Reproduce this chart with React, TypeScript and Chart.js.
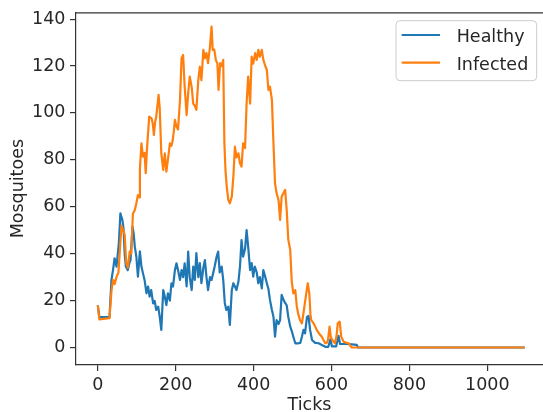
import React, { useEffect, useRef } from "react";
import { Chart, registerables } from "chart.js";

Chart.register(...registerables);

const seriesLabels = ["Healthy", "Infected"];
const seriesColors = ["#1f77b4", "#ff7f0e"];
const xTickValues = [0, 200, 400, 600, 800, 1000];
const yTickValues = [0, 20, 40, 60, 80, 100, 120, 140];
const xAxisTitle = "Ticks";
const yAxisTitle = "Mosquitoes";

const healthyTicks = [
  0, 4, 30, 35, 39, 43, 48, 54, 58, 60, 63, 66, 69, 72, 77, 81, 84, 89, 92, 95, 99, 103, 108, 112, 116, 120,
  125, 129, 133, 137, 142, 146, 150, 155, 159, 163, 168, 172, 176, 180, 185, 189, 193, 198, 202, 206, 211,
  215, 219, 223, 228, 232, 236, 241, 245, 249, 253, 258, 262, 266, 271, 275, 279, 283, 288, 292, 296, 300,
  305, 309, 313, 318, 322, 326, 330, 335, 339, 344, 348, 352, 356, 361, 365, 369, 373, 378, 382, 386, 391,
  395, 399, 403, 408, 412, 416, 421, 425, 430, 434, 438, 442, 447, 451, 455, 459, 464, 468, 472, 477, 481,
  485, 489, 494, 498, 502, 507, 515, 520, 524, 528, 532, 537, 541, 545, 550, 558, 567, 575, 584, 592, 597,
  601, 612, 618, 622, 640, 652, 665, 668, 1096,
];
const healthyCounts = [
  18, 13, 13, 28.8, 33, 38, 34.5, 44.4, 57.2, 56, 54.4, 50.8, 40, 34.5, 33, 36, 37.3, 51.5, 48.7, 43, 38.7,
  30.2, 41, 34.5, 31.6, 28.8, 23.1, 26, 21.7, 24.5, 18.8, 19.9, 16, 17.4, 13.1, 7.5, 24.5, 21.7, 18.1, 23.1,
  20, 27.4, 26, 33, 35.9, 33, 28.8, 33, 30, 35.9, 26, 40.9, 30, 24.5, 34.5, 28.8, 40.2, 30, 36, 27.4, 34,
  37.3, 30, 24.5, 30, 28.8, 31.6, 34.5, 38.7, 40.9, 32, 34.5, 28.8, 19, 16, 17.4, 9.6, 24.5, 27.4, 26, 24.5,
  28, 34.5, 45.8, 38.7, 42, 50.1, 43, 33, 36, 30.2, 34.5, 32, 27.4, 30, 25.2, 33, 30, 27.4, 25, 20.3, 16,
  13.1, 4.6, 11.7, 10, 11.7, 22.4, 20.3, 19, 18, 13.1, 8.9, 7, 4.6, 1.8, 1.8, 2, 4.6, 7.5, 6, 13, 13.5, 7.5,
  3.2, 2, 1.8, 1.1, 0.3, 0.3, 3.5, 0.5, 0.5, 5, 1.5, 1.5, 1.3, 1.1, 0, 0,
];

const infectedTicks = [
  0, 4, 30, 35, 39, 43, 48, 53, 58, 61, 65, 69, 73, 77, 82, 86, 90, 95, 99, 103, 106, 108, 112, 116, 120,
  123, 126, 129, 132, 138, 141, 144, 147, 150, 153, 156, 159, 163, 168, 172, 176, 181, 185, 189, 192, 195,
  198, 202, 206, 211, 215, 219, 223, 228, 232, 236, 241, 245, 249, 253, 258, 262, 266, 271, 275, 279, 283,
  288, 292, 295, 299, 303, 307, 310, 314, 318, 322, 325, 328, 331, 335, 339, 344, 348, 352, 356, 361, 365,
  369, 373, 378, 382, 386, 391, 395, 399, 404, 408, 412, 416, 421, 425, 430, 434, 438, 442, 447, 451, 455,
  459, 464, 468, 472, 477, 481, 485, 489, 494, 498, 502, 507, 511, 515, 519, 524, 528, 534, 539, 543, 546,
  548, 554, 558, 562, 568, 575, 580, 584, 588, 591, 595, 598, 602, 609, 613, 616, 621, 625, 631, 638, 644,
  652, 1096,
];
const infectedCounts = [
  18, 12, 12.5, 24, 28.8, 27, 30, 32, 45, 52, 50, 48, 36, 34, 41, 40, 57, 58.6, 61.5, 65, 64, 75.7, 87,
  81.4, 83, 74.3, 84, 91.3, 98.4, 97.7, 95.5, 90.6, 96, 98.4, 103, 107.7, 102, 82.8, 75.7, 82.8, 75, 81.4,
  87, 86, 88, 92, 97, 94.2, 93, 105.5, 123.3, 124.7, 111.2, 99.1, 108.4, 115.5, 111, 104, 103, 101.3, 114,
  119.7, 114, 126.9, 123.3, 125.5, 121.2, 128.3, 136.8, 126.9, 127, 122.6, 121, 109.8, 121.2, 120, 122.6,
  87, 75, 68.6, 63, 61.5, 64.3, 72.8, 85.6, 81, 82.8, 78.5, 77.1, 87, 85, 104, 115.5, 104, 124, 121, 125.5,
  122.6, 126.9, 124, 126.9, 122.6, 120, 118.3, 109.8, 111.2, 105.5, 87, 70, 65.8, 62.9, 54.4, 64.3, 66,
  67.2, 58.6, 46, 41.6, 28, 23.1, 24.5, 17.4, 14, 11.7, 10.3, 14.6, 21.7, 27.4, 23.1, 14, 11.7, 10.3, 9,
  7.5, 6, 4.6, 3, 1.8, 2, 3.2, 8.9, 4.6, 3.2, 1.8, 5, 10.3, 11, 4.6, 2.5, 2, 1.8, 0, 0,
];

const FONT = "DejaVu Sans";
const FS = 17.5;
const TEXT = "#262626";
const SPINE = "#333333";
const LW = 2.2;

const legendPlugin = {
  id: "mplLegend",
  afterDraw(chart: any) {
    const ctx = chart.ctx;
    ctx.save();
    const bx = 396, by = 20.7, bw = 140.7, bh = 60, r = 4;
    ctx.beginPath();
    ctx.moveTo(bx + r, by);
    ctx.lineTo(bx + bw - r, by);
    ctx.quadraticCurveTo(bx + bw, by, bx + bw, by + r);
    ctx.lineTo(bx + bw, by + bh - r);
    ctx.quadraticCurveTo(bx + bw, by + bh, bx + bw - r, by + bh);
    ctx.lineTo(bx + r, by + bh);
    ctx.quadraticCurveTo(bx, by + bh, bx, by + bh - r);
    ctx.lineTo(bx, by + r);
    ctx.quadraticCurveTo(bx, by, bx + r, by);
    ctx.closePath();
    ctx.fillStyle = "rgba(255,255,255,0.8)";
    ctx.fill();
    ctx.strokeStyle = "#cccccc";
    ctx.lineWidth = 1;
    ctx.stroke();
    const rows = [35, 62.7];
    seriesLabels.forEach((label, i) => {
      const y = rows[i];
      ctx.beginPath();
      ctx.moveTo(401.7, y);
      ctx.lineTo(440, y);
      ctx.strokeStyle = seriesColors[i];
      ctx.lineWidth = LW;
      ctx.stroke();
      ctx.fillStyle = TEXT;
      ctx.font = `${FS}px "${FONT}"`;
      ctx.textAlign = "left";
      ctx.textBaseline = "alphabetic";
      ctx.fillText(label, 456.7, y + 7);
    });
    ctx.restore();
  },
};

const topSpinePlugin = {
  id: "topSpine",
  afterDraw(chart: any) {
    const { ctx, chartArea } = chart;
    ctx.save();
    ctx.beginPath();
    ctx.moveTo(chartArea.left, chartArea.top + 0.5);
    ctx.lineTo(chart.width, chartArea.top + 0.5);
    ctx.strokeStyle = SPINE;
    ctx.lineWidth = 1.2;
    ctx.stroke();
    ctx.restore();
  },
};

export default function App() {
  const ref = useRef<HTMLCanvasElement | null>(null);

  useEffect(() => {
    if (!ref.current) return;
    Chart.defaults.font.family = FONT;
    const mk = (ticks: number[], vals: number[]) => ticks.map((t, i) => ({ x: t, y: vals[i] }));
    const chart = new Chart(ref.current, {
      type: "line",
      data: {
        datasets: [
          {
            label: seriesLabels[0],
            data: mk(healthyTicks, healthyCounts),
            borderColor: seriesColors[0],
            backgroundColor: seriesColors[0],
            borderWidth: LW,
            pointRadius: 0,
            tension: 0,
            borderJoinStyle: "round",
            order: 1,
          },
          {
            label: seriesLabels[1],
            data: mk(infectedTicks, infectedCounts),
            borderColor: seriesColors[1],
            backgroundColor: seriesColors[1],
            borderWidth: LW,
            pointRadius: 0,
            tension: 0,
            borderJoinStyle: "round",
            order: 0,
          },
        ],
      },
      options: {
        responsive: false,
        animation: false,
        devicePixelRatio: 1,
        layout: { padding: { top: 12.3, left: 0, right: 0, bottom: 0 } },
        plugins: { legend: { display: false }, tooltip: { enabled: false } },
        scales: {
          x: {
            type: "linear",
            min: -56,
            max: 1143,
            afterBuildTicks: (s: any) => {
              s.ticks = xTickValues.map((v) => ({ value: v }));
            },
            afterFit: (s: any) => {
              s.height = 47;
              s.paddingLeft = 0;
              s.paddingRight = 0;
            },
            ticks: {
              maxRotation: 0,
              autoSkip: false,
              padding: 3.5,
              color: TEXT,
              font: { family: FONT, size: FS },
              callback: (v: any) => String(v),
            },
            grid: { drawOnChartArea: false, drawTicks: true, tickLength: 6, color: SPINE, lineWidth: 1.2 },
            border: { display: true, color: SPINE, width: 1.2 },
            title: {
              display: true,
              text: xAxisTitle,
              color: TEXT,
              font: { family: FONT, size: FS, lineHeight: 0.7 },
              padding: 0,
            },
          },
          y: {
            type: "linear",
            min: -7.46,
            max: 142.9,
            afterBuildTicks: (s: any) => {
              s.ticks = yTickValues.map((v) => ({ value: v }));
            },
            afterFit: (s: any) => {
              s.width = 76;
              s.paddingTop = 0;
              s.paddingBottom = 0;
            },
            ticks: {
              autoSkip: false,
              padding: 4.5,
              color: TEXT,
              font: { family: FONT, size: FS },
              callback: (v: any) => String(v),
            },
            grid: { drawOnChartArea: false, drawTicks: true, tickLength: 6, color: SPINE, lineWidth: 1.2 },
            border: { display: true, color: SPINE, width: 1.2 },
            title: {
              display: true,
              text: yAxisTitle,
              color: TEXT,
              font: { family: FONT, size: FS, lineHeight: 1.2 },
              padding: { top: 8.3, bottom: 0 },
            },
          },
        },
      },
      plugins: [topSpinePlugin, legendPlugin],
    } as any);
    return () => chart.destroy();
  }, []);

  return (
    <div style={{ position: "fixed", left: 0, top: 0, width: 543, height: 412, background: "#fff" }}>
      <canvas ref={ref} width={543} height={412} style={{ display: "block", width: 543, height: 412 }} />
    </div>
  );
}
